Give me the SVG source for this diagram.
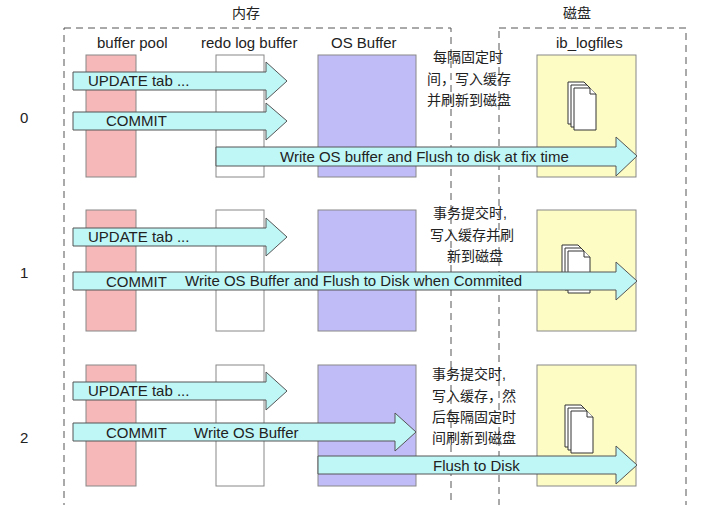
<svg xmlns="http://www.w3.org/2000/svg" width="713" height="505" viewBox="0 0 713 505">
<style>
text{font-family:"Liberation Sans","Noto Sans CJK SC",sans-serif;font-size:14px;fill:#222}
.t{font-size:15px}
.dash{fill:none;stroke:#555;stroke-dasharray:7,5;stroke-width:1}
.bp{fill:#f6b8b8;stroke:#888}
.rl{fill:#fff;stroke:#888}
.os{fill:#c0bcf8;stroke:#888}
.lf{fill:#fcfcc4;stroke:#888}
.ar{fill:#bff7f7;stroke:#555;stroke-width:1}
.pg{fill:#fff;stroke:#333;stroke-width:1}
</style>
<defs>
<g id="file">
<path class="pg" d="M0,0 h16 l6,6 v36 h-22 z"/>
<path class="pg" d="M3,3 h16 l6,6 v36 h-22 z"/>
<path class="pg" d="M6,6 h16 l6,6 v36 h-22 z"/>
<path class="pg" d="M22,6 v6 h6"/>
</g>
</defs>
<rect class="dash" x="64" y="28" width="387" height="490"/>
<rect class="dash" x="499" y="28" width="187" height="490"/>
<text x="232" y="18">内存</text>
<text x="563" y="18">磁盘</text>
<text class="t" x="97" y="48">buffer pool</text>
<text class="t" x="201" y="48">redo log buffer</text>
<text class="t" x="331" y="48">OS Buffer</text>
<text class="t" x="556" y="48">ib_logfiles</text>
<text class="t" x="20" y="123">0</text>
<text class="t" x="20" y="278">1</text>
<text class="t" x="20" y="443">2</text>
<g id="row0">
<rect class="bp" x="86" y="55" width="50" height="122"/>
<rect class="rl" x="216" y="55" width="48" height="122"/>
<rect class="os" x="318" y="55" width="98" height="122"/>
<rect class="lf" x="537" y="55" width="99" height="122"/>
<use href="#file" x="568" y="82"/>
<text x="433" y="62">每隔固定时</text>
<text x="427" y="84">间，写入缓存</text>
<text x="427" y="105">并刷新到磁盘</text>
</g>
<g id="row1">
<rect class="bp" x="86" y="210" width="50" height="121"/>
<rect class="rl" x="216" y="210" width="48" height="121"/>
<rect class="os" x="318" y="210" width="98" height="121"/>
<rect class="lf" x="537" y="210" width="99" height="121"/>
<use href="#file" x="562" y="245"/>
<text x="433" y="218">事务提交时,</text>
<text x="430" y="240">写入缓存并刷</text>
<text x="447" y="261">新到磁盘</text>
</g>
<g id="row2">
<rect class="bp" x="86" y="365" width="50" height="121"/>
<rect class="rl" x="216" y="365" width="48" height="121"/>
<rect class="os" x="318" y="365" width="98" height="121"/>
<rect class="lf" x="537" y="365" width="99" height="121"/>
<use href="#file" x="565" y="405"/>
<text x="432" y="379">事务提交时,</text>
<text x="432" y="401">写入缓存，然</text>
<text x="432" y="422">后每隔固定时</text>
<text x="432" y="443">间刷新到磁盘</text>
</g>
<g id="connectors">
<polygon class="ar" points="73,72 266,72 266,62 287,81 266,100 266,90 73,90"/>
<text class="t" x="88" y="86">UPDATE tab ...</text>
<polygon class="ar" points="73,112 266,112 266,103 287,121 266,140 266,130 73,130"/>
<text class="t" x="106" y="126">COMMIT</text>
<polygon class="ar" points="216,147 616,147 616,137 637,156 616,176 616,166 216,166"/>
<text class="t" x="280" y="162">Write OS buffer and Flush to disk at fix time</text>
<polygon class="ar" points="73,228 266,228 266,218 287,237 266,256 266,246 73,246"/>
<text class="t" x="88" y="242">UPDATE tab ...</text>
<polygon class="ar" points="73,272 616,272 616,262 637,281 616,300 616,290 73,290"/>
<text class="t" x="106" y="287">COMMIT</text>
<text class="t" x="185" y="286">Write OS Buffer and Flush to Disk when Commited</text>
<polygon class="ar" points="73,382 266,382 266,372 287,391 266,410 266,400 73,400"/>
<text class="t" x="88" y="396">UPDATE tab ...</text>
<polygon class="ar" points="73,423 395,423 395,413 416,432 395,451 395,441 73,441"/>
<text class="t" x="106" y="438">COMMIT</text>
<text class="t" x="194" y="438">Write OS Buffer</text>
<polygon class="ar" points="318,456 616,456 616,446 637,465 616,484 616,474 318,474"/>
<text class="t" x="433" y="471">Flush to Disk</text>
</g>
</svg>
